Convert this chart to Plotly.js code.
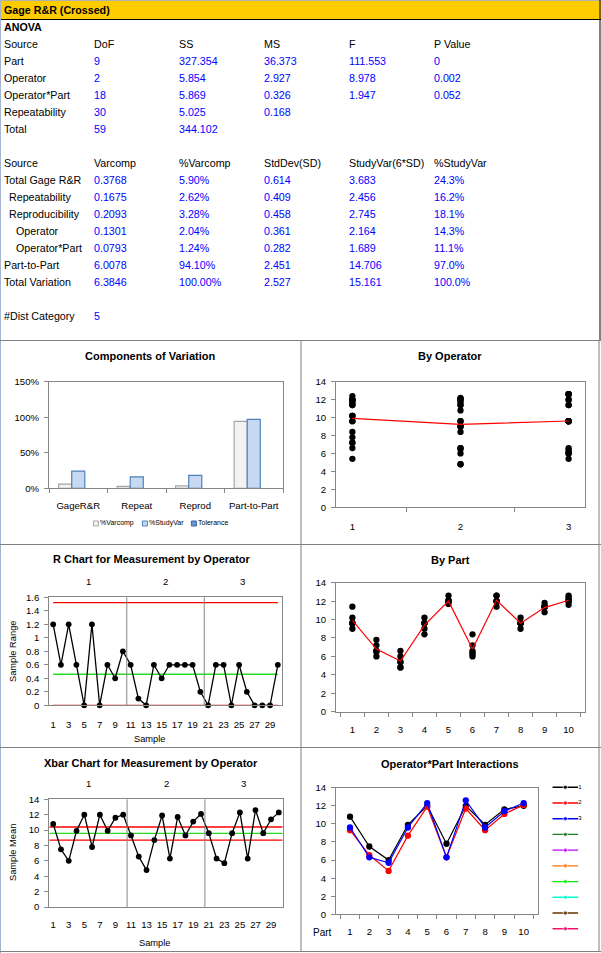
<!DOCTYPE html>
<html><head><meta charset="utf-8">
<script src="https://cdn.plot.ly/plotly-3.0.1.min.js"></script>
<style>html,body{margin:0;padding:0;background:#fff;} #chart{width:601px;height:953px;}</style>
</head><body><div id="chart"></div>
<script>
// ================= DATA =================
// Table: ANOVA
const anovaHeader = ['Source','DoF','SS','MS','F','P Value'];
const anovaSource = ['Part','Operator','Operator*Part','Repeatability','Total'];
const anovaDoF = ['9','2','18','30','59'];
const anovaSS = ['327.354','5.854','5.869','5.025','344.102'];
const anovaMS = ['36.373','2.927','0.326','0.168',''];
const anovaF = ['111.553','8.978','1.947','',''];
const anovaP = ['0','0.002','0.052','',''];
// Table: variance components
const varHeader = ['Source','Varcomp','%Varcomp','StdDev(SD)','StudyVar(6*SD)','%StudyVar'];
const varSource = ['Total Gage R&R','Repeatability','Reproducibility','Operator','Operator*Part','Part-to-Part','Total Variation'];
const varcomp = ['0.3768','0.1675','0.2093','0.1301','0.0793','6.0078','6.3846'];
const pctVarcomp = ['5.90%','2.62%','3.28%','2.04%','1.24%','94.10%','100.00%'];
const stdDev = ['0.614','0.409','0.458','0.361','0.282','2.451','2.527'];
const studyVar = ['3.683','2.456','2.745','2.164','1.689','14.706','15.161'];
const pctStudyVar = ['24.3%','16.2%','18.1%','14.3%','11.1%','97.0%','100.0%'];
const distCategoryLabel = '#Dist Category';
const distCategory = '5';

// Components of variation
const compCategories = ['GageR&R','Repeat','Reprod','Part-to-Part'];
const compSeries = ['%Varcomp','%StudyVar','Tolerance'];
const compPctVarcomp = [5.90, 2.62, 3.28, 94.10];
const compPctStudyVar = [24.3, 16.2, 18.1, 97.0];
const compTolerance = [null, null, null, null];
const compTicks = [0, 50, 100, 150];
const compTickText = ['0%', '50%', '100%', '150%'];

// Measurements
const operators = ['1','2','3'];
const parts = ['1','2','3','4','5','6','7','8','9','10'];
const op1Trial1 = [11.4, 7.8, 6.6, 10.2, 12.0, 8.4, 12.0, 10.2, 11.8, 12.4];
const op1Trial2 = [10.2, 7.2, 5.4, 9.6, 12.0, 7.2, 12.0, 9.6, 11.4, 11.6];
const op2Trial1 = [9.6, 6.6, 4.8, 9.0, 12.1, 6.6, 12.0, 9.6, 11.4, 12.2];
const op2Trial2 = [9.0, 6.5, 4.8, 8.4, 11.7, 6.0, 11.4, 9.0, 10.8, 12.0];
const op3Trial1 = [9.6, 6.6, 6.0, 9.6, 12.6, 6.4, 12.6, 9.6, 11.4, 12.6];
const op3Trial2 = [9.6, 6.0, 5.4, 9.6, 12.0, 6.2, 12.6, 9.6, 11.4, 12.0];
const operatorMeans = [9.91, 9.25, 9.62];
const partMeans = [9.9, 6.8, 5.5, 9.4, 12.0, 6.8, 12.1, 9.6, 11.3, 12.1];

// Sample means and ranges (operator x part)
const op1Mean = [10.8, 7.5, 6.0, 9.9, 12.0, 7.8, 12.0, 9.9, 11.6, 12.0];
const op2Mean = [9.3, 6.55, 4.8, 8.7, 11.9, 6.3, 11.7, 9.3, 11.1, 12.1];
const op3Mean = [9.6, 6.3, 5.7, 9.6, 12.3, 6.3, 12.6, 9.6, 11.4, 12.3];
const op1Range = [1.2, 0.6, 1.2, 0.6, 0, 1.2, 0, 0.6, 0.4, 0.8];
const op2Range = [0.6, 0.1, 0, 0.6, 0.4, 0.6, 0.6, 0.6, 0.6, 0.2];
const op3Range = [0, 0.6, 0.6, 0, 0.6, 0.2, 0, 0, 0, 0.6];
const samples = [1,2,3,4,5,6,7,8,9,10,11,12,13,14,15,16,17,18,19,20,21,22,23,24,25,26,27,28,29,30];
const sampleTicks = [1,3,5,7,9,11,13,15,17,19,21,23,25,27,29];
const rUCL = 1.52, rCL = 0.46, rLCL = 0;
const xbarUCL = 10.4, xbarCL = 9.58, xbarLCL = 8.7;
const rTicks = [0,0.2,0.4,0.6,0.8,1,1.2,1.4,1.6];
const interactionSeries = ['1','2','3','','','','','','',''];

// ================= STYLE / LAYOUT HELPERS =================
const W = 601, H = 953;
const FONT = 'Arial, "Liberation Sans", sans-serif';
const BLUE = '#0000FF';
const GRID = '#868686';
const PANEL = '#808080';
const TICKSIZE = 9.6;
const px = v => v / W;
const py = v => 1 - v / H;
const interactionColors = ['#000000','#FF0000','#0000FF','#1E7B1E','#C000FF','#FF7000','#00F000','#00FFCC','#663300','#F0106A'];
const compFill = ['#F2F2F2','#C6D9F1','#6F93CB'];
const compLine = ['#A6A6A6','#4F81BD','#3E67A0'];

const annotations = [];
function txt(x, y, text, o) {
  o = o || {};
  annotations.push({
    xref: 'paper', yref: 'paper', x: px(x), y: py(y), text: text, showarrow: false,
    xanchor: o.xa || 'left', yanchor: 'middle', textangle: o.angle || 0,
    font: {family: FONT, size: o.size || 10.7, color: o.color || '#000'},
    borderpad: 0
  });
}

// ---- Table text
const colX = [3, 93, 177.5, 262.5, 347.6, 433];
txt(3, 10.5, '<b>Gage R&R (Crossed)</b>', {size: 10.7});
txt(3, 27.3, '<b>ANOVA</b>');
const anovaY0 = 44, rowH = 17;
anovaHeader.forEach((h, i) => txt(colX[i], anovaY0, h));
const anovaCols = [anovaDoF, anovaSS, anovaMS, anovaF, anovaP];
anovaSource.forEach((s, r) => {
  const y = anovaY0 + (r + 1) * rowH;
  txt(colX[0], y, s);
  anovaCols.forEach((c, i) => { if (c[r] !== '') txt(colX[i + 1], y, c[r], {color: BLUE}); });
});
const varY0 = 163.3;
const varIndent = [0, 5.4, 5.4, 11.6, 11.6, 0, 0];
varHeader.forEach((h, i) => txt(colX[i], varY0, h));
const varCols = [varcomp, pctVarcomp, stdDev, studyVar, pctStudyVar];
varSource.forEach((s, r) => {
  const y = varY0 + (r + 1) * rowH;
  txt(colX[0] + varIndent[r], y, s);
  varCols.forEach((c, i) => txt(colX[i + 1], y, c[r], {color: BLUE}));
});
txt(colX[0], 316, distCategoryLabel);
txt(colX[1], 316, distCategory, {color: BLUE});

// ---- Chart titles
const TS = 11;
txt(150, 356, '<b>Components of Variation</b>', {xa: 'center', size: TS});
txt(450, 356, '<b>By Operator</b>', {xa: 'center', size: TS});
txt(152, 559, '<b>R Chart for Measurement by Operator</b>', {xa: 'center', size: TS});
txt(450, 560, '<b>By Part</b>', {xa: 'center', size: TS});
txt(151, 763, '<b>Xbar Chart for Measurement by Operator</b>', {xa: 'center', size: TS});
txt(450, 764, '<b>Operator*Part Interactions</b>', {xa: 'center', size: TS});
// axis titles
txt(13, 651, 'Sample Range', {xa: 'center', angle: -90, size: 9.3});
txt(150, 738.5, 'Sample', {xa: 'center', size: 9.3});
txt(13, 853, 'Sample Mean', {xa: 'center', angle: -90, size: 9.3});
txt(155, 943, 'Sample', {xa: 'center', size: 9.3});
txt(322, 932, 'Part', {xa: 'center', size: 10});

// operator section labels above R and Xbar charts
operators.forEach((op, k) => {
  const mid = samples[k * 10] + 4.5;
  annotations.push({xref: 'x3', yref: 'paper', x: mid, y: py(581), text: op, showarrow: false,
    xanchor: 'center', yanchor: 'middle', font: {family: FONT, size: TICKSIZE, color: '#000'}});
  annotations.push({xref: 'x5', yref: 'paper', x: mid, y: py(783.5), text: op, showarrow: false,
    xanchor: 'center', yanchor: 'middle', font: {family: FONT, size: TICKSIZE, color: '#000'}});
});

// ---- Shapes (frames)
const shapes = [];
function pline(x0, y0, x1, y1, color, w) {
  shapes.push({type: 'line', xref: 'paper', yref: 'paper', x0: px(x0), y0: py(y0), x1: px(x1), y1: py(y1),
    line: {color: color, width: w || 1}});
}
shapes.push({type: 'rect', xref: 'paper', yref: 'paper', x0: 0, x1: 1, y0: py(19), y1: 1,
  fillcolor: '#FFCC00', line: {width: 0}, layer: 'below'});
pline(0, 19.5, 601, 19.5, '#000');
pline(0, 0.5, 601, 0.5, '#B0B0B0');
pline(0.5, 0, 0.5, 953, '#A3B5CF');
pline(600, 0, 600, 340, '#000');
pline(0, 340.5, 601, 340.5, PANEL);
pline(301, 340.5, 301, 951.5, PANEL);
pline(599, 340.5, 599, 951.5, PANEL);
pline(0, 544.5, 601, 544.5, PANEL);
pline(0, 747.5, 601, 747.5, PANEL);
pline(0, 951.5, 601, 951.5, PANEL);
// operator separators in R and Xbar charts
[10.5, 20.5].forEach(b => {
  shapes.push({type: 'line', xref: 'x3', yref: 'y3 domain', x0: b, x1: b, y0: 0, y1: 1, line: {color: GRID, width: 1}});
  shapes.push({type: 'line', xref: 'x5', yref: 'y5 domain', x0: b, x1: b, y0: 0, y1: 1, line: {color: GRID, width: 1}});
});

// ================= TRACES =================
const traces = [];
// Components of variation bars
[compPctVarcomp, compPctStudyVar, compTolerance].forEach((vals, i) => {
  traces.push({type: 'bar', x: compCategories, y: vals, name: compSeries[i], xaxis: 'x', yaxis: 'y',
    marker: {color: compFill[i], line: {color: compLine[i], width: 1.2}}, hoverinfo: 'skip'});
});
// Components legend (custom, hidden axes)
traces.push({type: 'scatter', mode: 'markers+text', x: [0.08, 1.08, 2.08], y: [0.5, 0.5, 0.5], xaxis: 'x7', yaxis: 'y7',
  marker: {symbol: 'square', size: 5, color: compFill, line: {color: compLine, width: 1}},
  text: compSeries, textposition: 'middle right', textfont: {family: FONT, size: 7, color: '#000'},
  cliponaxis: false, hoverinfo: 'skip'});

// By Operator
const opTrials = [[op1Trial1, op1Trial2], [op2Trial1, op2Trial2], [op3Trial1, op3Trial2]];
const byOpX = [], byOpY = [];
opTrials.forEach((tr, k) => { tr.forEach(t => t.forEach(v => { byOpX.push(operators[k]); byOpY.push(v); })); });
traces.push({type: 'scatter', mode: 'markers', x: byOpX, y: byOpY, xaxis: 'x2', yaxis: 'y2',
  marker: {color: '#000', size: 6.3}, hoverinfo: 'skip'});
traces.push({type: 'scatter', mode: 'lines', x: operators, y: operatorMeans, xaxis: 'x2', yaxis: 'y2',
  line: {color: '#FF0000', width: 1.2}, hoverinfo: 'skip'});

// R chart
const allRanges = op1Range.concat(op2Range, op3Range);
const sFirst = samples[0], sLast = samples[samples.length - 1];
[[rUCL, '#FF0000'], [rCL, '#22DD22'], [rLCL, '#FF0000']].forEach(([v, c]) => {
  traces.push({type: 'scatter', mode: 'lines', x: [sFirst, sLast], y: [v, v], xaxis: 'x3', yaxis: 'y3',
    line: {color: c, width: 1.3}, hoverinfo: 'skip'});
});
traces.push({type: 'scatter', mode: 'lines+markers', x: samples, y: allRanges, xaxis: 'x3', yaxis: 'y3',
  line: {color: '#000', width: 1.3}, marker: {color: '#000', size: 5.8}, cliponaxis: false, hoverinfo: 'skip'});

// By Part
const byPartX = [], byPartY = [];
parts.forEach((p, j) => {
  opTrials.forEach(tr => tr.forEach(t => { byPartX.push(p); byPartY.push(t[j]); }));
});
traces.push({type: 'scatter', mode: 'markers', x: byPartX, y: byPartY, xaxis: 'x4', yaxis: 'y4',
  marker: {color: '#000', size: 6.3}, hoverinfo: 'skip'});
traces.push({type: 'scatter', mode: 'lines', x: parts, y: partMeans, xaxis: 'x4', yaxis: 'y4',
  line: {color: '#FF0000', width: 1.2}, hoverinfo: 'skip'});

// Xbar chart
const allMeans = op1Mean.concat(op2Mean, op3Mean);
[[xbarUCL, '#FF0000'], [xbarCL, '#22DD22'], [xbarLCL, '#FF0000']].forEach(([v, c]) => {
  traces.push({type: 'scatter', mode: 'lines', x: [sFirst - 0.5, sLast + 0.5], y: [v, v], xaxis: 'x5', yaxis: 'y5',
    line: {color: c, width: 1.3}, hoverinfo: 'skip'});
});
traces.push({type: 'scatter', mode: 'lines+markers', x: samples, y: allMeans, xaxis: 'x5', yaxis: 'y5',
  line: {color: '#000', width: 1.3}, marker: {color: '#000', size: 5.8}, cliponaxis: false, hoverinfo: 'skip'});

// Interactions
[op1Mean, op2Mean, op3Mean].forEach((m, k) => {
  traces.push({type: 'scatter', mode: 'lines+markers', x: parts, y: m, xaxis: 'x6', yaxis: 'y6',
    line: {color: interactionColors[k], width: 1.2}, marker: {color: interactionColors[k], size: 6.3},
    name: interactionSeries[k], hoverinfo: 'skip'});
});
// Interactions legend (custom, hidden axes)
interactionSeries.forEach((name, k) => {
  traces.push({type: 'scatter', mode: 'lines+markers+text', x: [0, 0.5, 1], y: [k + 1, k + 1, k + 1],
    xaxis: 'x8', yaxis: 'y8', line: {color: interactionColors[k], width: 1.4},
    marker: {color: interactionColors[k], size: [0, 4.5, 0]},
    text: ['', '', name], textposition: 'middle right', textfont: {family: FONT, size: 6, color: '#000'},
    cliponaxis: false, hoverinfo: 'skip'});
});

// ================= AXES =================
function ax(extra) {
  return Object.assign({showline: true, linecolor: GRID, linewidth: 1, mirror: true, showgrid: false, zeroline: false,
    ticks: 'outside', ticklen: 4, tickcolor: GRID, tickwidth: 1, tickangle: 0,
    tickfont: {family: FONT, size: TICKSIZE, color: '#000'},
    fixedrange: true, automargin: false}, extra);
}
const hidden = {visible: false, fixedrange: true, showgrid: false, zeroline: false};
const layout = {
  width: W, height: H, margin: {l: 0, r: 0, t: 0, b: 0}, paper_bgcolor: '#fff', plot_bgcolor: 'rgba(0,0,0,0)',
  showlegend: false, font: {family: FONT, color: '#000'}, barmode: 'group', bargap: 0.33, bargroupgap: 0,
  annotations: annotations, shapes: shapes, hovermode: false,
  xaxis: ax({domain: [px(49), px(283)], anchor: 'y', type: 'category', tickson: 'boundaries', ticklabelstandoff: 8}),
  yaxis: ax({domain: [py(488.3), py(381.7)], anchor: 'x', range: [0, 150], tickvals: compTicks, ticktext: compTickText, ticklabelstandoff: 3}),
  xaxis2: ax({domain: [px(336), px(585)], anchor: 'y2', type: 'category', tickson: 'boundaries', ticklabelstandoff: 10}),
  yaxis2: ax({domain: [py(507.3), py(381.7)], anchor: 'x2', range: [0, 14], dtick: 2, ticklabelstandoff: 3}),
  xaxis3: ax({domain: [px(49.3), px(281.7)], anchor: 'y3', range: [0.5, 30.5], tickvals: sampleTicks, ticks: '', ticklabelstandoff: 10}),
  yaxis3: ax({domain: [py(705.3), py(597.3)], anchor: 'x3', range: [0, 1.6], tickvals: rTicks, ticklabelstandoff: 3}),
  xaxis4: ax({domain: [px(336), px(585)], anchor: 'y4', type: 'category', tickson: 'boundaries', ticklabelstandoff: 9}),
  yaxis4: ax({domain: [py(711.7), py(582.7)], anchor: 'x4', range: [0, 14], dtick: 2, ticklabelstandoff: 3}),
  xaxis5: ax({domain: [px(49.3), px(282.7)], anchor: 'y5', range: [0.5, 30.5], tickvals: sampleTicks, ticks: '', ticklabelstandoff: 8}),
  yaxis5: ax({domain: [py(907), py(799.3)], anchor: 'x5', range: [0, 14], dtick: 2, ticklabelstandoff: 3}),
  xaxis6: ax({domain: [px(336), px(537.7)], anchor: 'y6', type: 'category', tickson: 'boundaries', ticklabelstandoff: 8}),
  yaxis6: ax({domain: [py(914.3), py(787.7)], anchor: 'x6', range: [0, 14], dtick: 2, ticklabelstandoff: 3}),
  xaxis7: Object.assign({domain: [px(92), px(239)], anchor: 'y7', range: [0, 3]}, hidden),
  yaxis7: Object.assign({domain: [py(530), py(517)], anchor: 'x7', range: [0, 1]}, hidden),
  xaxis8: Object.assign({domain: [px(552.3), px(578.3)], anchor: 'y8', range: [0, 1]}, hidden),
  yaxis8: Object.assign({domain: [py(936.6), py(779.4)], anchor: 'x8', range: [10.5, 0.5]}, hidden)
};
Plotly.newPlot('chart', traces, layout, {staticPlot: true, displayModeBar: false});
</script></body></html>
